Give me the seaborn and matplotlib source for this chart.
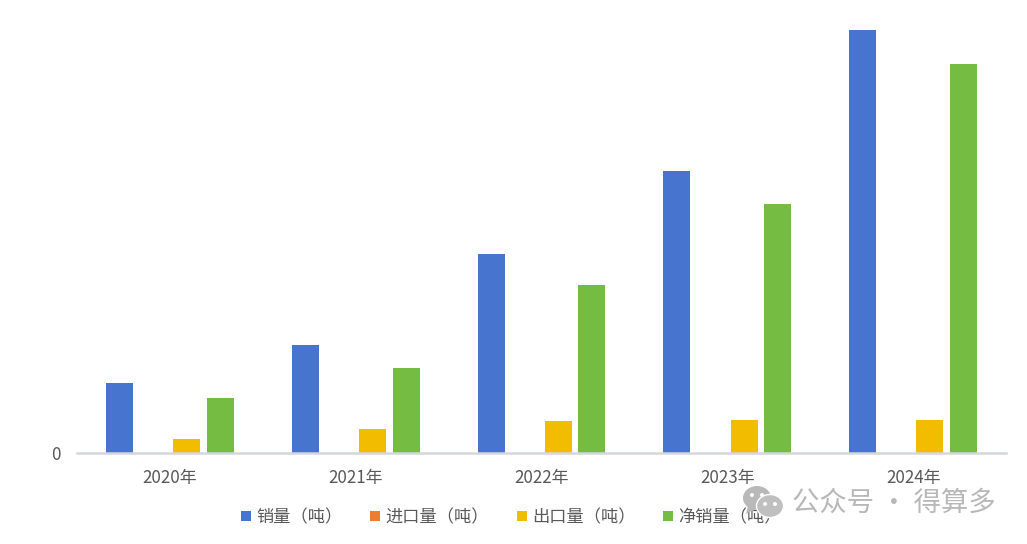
import matplotlib
matplotlib.use("Agg")
import matplotlib.pyplot as plt
from matplotlib.patches import Ellipse, Polygon
import pandas as pd
import seaborn as sns

years = ["2020年", "2021年", "2022年", "2023年", "2024年"]
sales = [70, 108, 199, 282, 423]
imports = [0, 0, 0, 0, 0]
exports = [14, 24, 32, 33, 33]
net_sales = [55, 85, 168, 249, 389]
series_names = ["销量（吨）", "进口量（吨）", "出口量（吨）", "净销量（吨）"]
colors = ["#4674CE", "#ED7D31", "#F2BC00", "#75BD42"]
y_ticks = [0]

sns.set_theme(style="white")
plt.rcParams["font.family"] = ["Noto Sans CJK SC", "DejaVu Sans"]

W, H = 1027, 544
fig = plt.figure(figsize=(W / 100, H / 100), dpi=100)
ax = fig.add_axes([77 / W, 1 - 452.5 / H, (1006 - 77) / W, (452.5 - 19.5) / H])

df = pd.DataFrame({
    "year": years * 4,
    "series": sum([[n] * 5 for n in series_names], []),
    "value": sales + imports + exports + net_sales,
})
sns.barplot(data=df, x="year", y="value", hue="series", hue_order=series_names,
            palette=colors, width=0.723, gap=0.2, saturation=1, linewidth=0, ax=ax, legend=True)

ax.set_xlim(-0.5, 4.5)
ax.set_ylim(0, 433)
ax.set_xlabel("")
ax.set_ylabel("")
ax.set_yticks(y_ticks)
for s in ["top", "left", "right"]:
    ax.spines[s].set_visible(False)
ax.spines["bottom"].set_color("#D4D7DA")
ax.spines["bottom"].set_linewidth(1.8)
ax.tick_params(axis="x", length=0, pad=12, labelsize=12.2, labelcolor="#595959")
ax.tick_params(axis="y", length=0, pad=12, labelsize=12.2, labelcolor="#595959")

handles, labels = ax.get_legend_handles_labels()
ax.legend(handles, labels, loc="center", bbox_to_anchor=(511.5 / W, 1 - 517 / H),
          bbox_transform=fig.transFigure, ncol=4, frameon=False, fontsize=12.4,
          labelcolor="#595959", handlelength=0.58, handleheight=0.58,
          handletextpad=0.3, columnspacing=1.6, borderpad=0)

# watermark
wm = "#B9B9B9"
def px(x, y):
    return (x / W, 1 - y / H)
fig.add_artist(Ellipse(px(757, 498), 28 / W, 24 / H, transform=fig.transFigure, fc=wm, lw=0, zorder=5))
fig.add_artist(Polygon([px(748, 506), px(746, 514), px(755, 509)], transform=fig.transFigure, fc=wm, lw=0, zorder=5))
fig.add_artist(Ellipse(px(770, 506), 27 / W, 23 / H, transform=fig.transFigure, fc="#BFBFBF", ec="white", lw=1, zorder=6))
for ex, ey, col in [(752, 495, "white"), (762, 495, "white"), (765, 504, "white"), (775, 504, "white")]:
    fig.add_artist(Ellipse(px(ex, ey), 4 / W, 4 / H, transform=fig.transFigure, fc=col, lw=0, zorder=7))
fig.text(792 / W, 1 - 503 / H, "公众号 · 得算多", fontsize=19.7, color="#B8B8B8",
         va="center", ha="left", zorder=8)

fig.savefig("out.png", dpi=100, facecolor="white")
